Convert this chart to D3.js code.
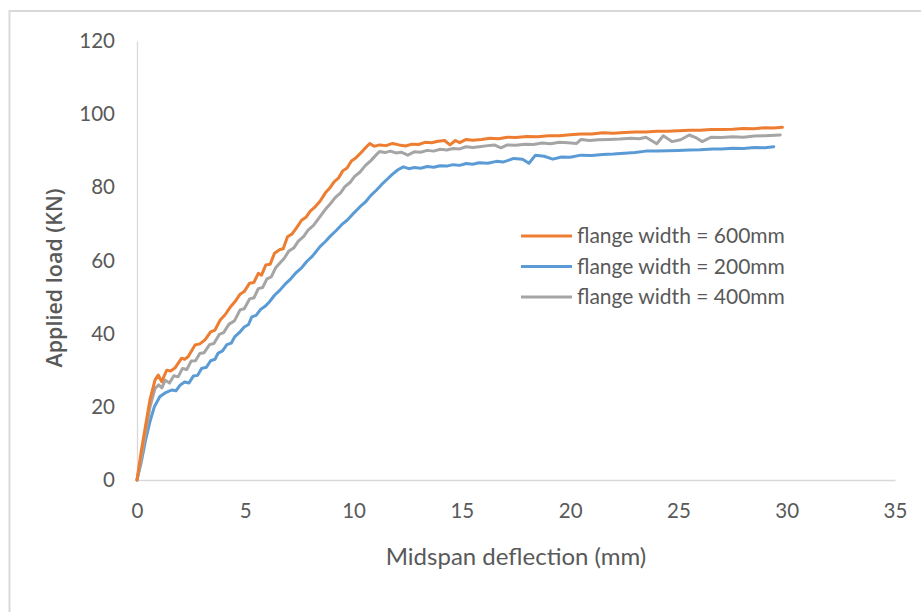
<!DOCTYPE html>
<html><head><meta charset="utf-8">
<script src="https://cdn.jsdelivr.net/npm/d3@7"></script>
<style>body{margin:0;background:#fff}svg{display:block}</style>
</head><body>
<svg id="c" width="921" height="612"></svg>
<script>
const xTicks = [0,5,10,15,20,25,30,35];
const yTicks = [0,20,40,60,80,100,120];
const seriesNames = ["flange width = 600mm","flange width = 200mm","flange width = 400mm"];
const seriesColors = ["#ED7D31","#5B9BD5","#A5A5A5"];

const fw600 = [[0,0],[0.2,8],[0.4,15],[0.6,22],[0.83,27.3],[0.98,28.7],[1.14,26.9],[1.37,30],[1.55,29.8],[1.75,30.6],[2.06,33.3],[2.2,33],[2.36,33.7],[2.68,36.9],[2.9,37.2],[3.14,38.3],[3.4,40.5],[3.6,41],[3.85,43.8],[4.06,45.1],[4.3,47.2],[4.52,48.7],[4.76,50.8],[4.95,51.5],[5.2,53.8],[5.4,54],[5.6,56.5],[5.75,56],[5.95,58.8],[6.15,59],[6.35,62],[6.6,63],[6.75,63.2],[6.95,66.5],[7.15,67.2],[7.35,68.8],[7.6,71],[7.8,71.8],[8.0,73.5],[8.2,74.5],[8.45,76.2],[8.7,78.5],[8.9,79.8],[9.1,81.5],[9.3,82.5],[9.5,84.5],[9.7,85.3],[9.9,87.2],[10.1,88],[10.3,89.2],[10.5,90.5],[10.75,92],[10.95,91.2],[11.2,91.6],[11.5,91.4],[11.8,92],[12.1,91.6],[12.4,91.3],[12.7,91.8],[13.0,91.7],[13.3,92.3],[13.6,92.2],[13.9,92.6],[14.2,92.8],[14.45,91.6],[14.7,92.8],[14.9,92.2],[15.2,93.1],[15.5,92.9],[15.9,93.1],[16.3,93.4],[16.7,93.3],[17.1,93.7],[17.5,93.6],[18,93.9],[18.5,93.8],[19,94.1],[19.5,94.1],[20,94.4],[20.5,94.6],[21,94.6],[21.5,94.9],[22,94.8],[22.5,95],[23,95.1],[23.5,95.1],[24,95.3],[24.5,95.3],[25,95.5],[25.5,95.6],[26,95.6],[26.5,95.8],[27,95.8],[27.5,95.9],[28,96.1],[28.5,96],[29,96.3],[29.4,96.2],[29.8,96.4]];

const fw200 = [[0,0],[0.2,5],[0.4,11],[0.6,16],[0.8,20],[1.06,22.8],[1.3,23.8],[1.6,24.6],[1.8,24.4],[2.0,26],[2.2,26.8],[2.4,26.5],[2.6,28.4],[2.8,28.6],[2.98,30.5],[3.2,30.8],[3.4,32.6],[3.6,33],[3.75,34.7],[3.95,35.3],[4.15,37],[4.35,37.4],[4.52,39.2],[4.76,40.5],[4.95,41.8],[5.15,42.5],[5.3,44.6],[5.5,45],[5.7,46.6],[5.9,47.4],[6.1,48.6],[6.35,50.5],[6.6,51.9],[6.85,53.6],[7.1,55],[7.35,56.7],[7.6,58],[7.85,59.8],[8.1,61.2],[8.45,63.8],[8.7,65.2],[8.95,66.8],[9.2,68.2],[9.45,69.8],[9.7,71],[9.95,72.6],[10.3,74.7],[10.55,76],[10.8,77.8],[11.05,79.2],[11.3,80.8],[11.55,82.2],[11.8,83.6],[12.05,84.8],[12.3,85.6],[12.55,85.1],[12.8,85.4],[13.1,85.2],[13.4,85.7],[13.7,85.5],[14.0,85.9],[14.3,85.8],[14.6,86.2],[14.9,86],[15.2,86.5],[15.5,86.3],[15.8,86.7],[16.2,86.6],[16.6,87.1],[16.9,86.9],[17.4,87.9],[17.8,87.7],[18.1,86.6],[18.4,88.8],[18.8,88.5],[19.2,87.7],[19.6,88.3],[20.0,88.2],[20.5,88.8],[21,88.7],[21.5,89],[22,89.1],[22.5,89.3],[23,89.5],[23.5,89.9],[24,89.9],[24.5,90],[25,90.1],[25.5,90.2],[26,90.3],[26.6,90.5],[27,90.5],[27.5,90.7],[28,90.6],[28.5,90.9],[29,90.8],[29.4,91.1]];

const fw400 = [[0,0],[0.2,6],[0.4,13],[0.6,20],[0.83,25],[1.0,26],[1.15,25.2],[1.3,27.3],[1.5,26.5],[1.7,28.5],[1.9,28.2],[2.1,30.5],[2.3,30.2],[2.5,32.5],[2.7,32.6],[2.9,34.6],[3.1,34.8],[3.35,37],[3.55,37.3],[3.8,39.8],[4.0,40.3],[4.25,42.6],[4.5,43.5],[4.76,46.5],[4.95,46.8],[5.2,49.5],[5.4,49.8],[5.6,52.3],[5.8,52.6],[6.0,55],[6.2,55.5],[6.4,58],[6.6,59.3],[6.8,60.6],[7.0,62.5],[7.25,63.5],[7.45,65.3],[7.7,66.6],[7.9,68.3],[8.15,69.6],[8.45,72],[8.7,74],[8.9,75.3],[9.15,77.2],[9.4,78.5],[9.6,80.2],[9.85,81.4],[10.05,83],[10.3,84.2],[10.55,86],[10.8,87.3],[11.0,88.6],[11.2,89.8],[11.45,89.5],[11.7,89.9],[11.95,89.4],[12.2,89.6],[12.5,88.8],[12.8,89.7],[13.1,89.6],[13.4,90.1],[13.7,89.9],[14.0,90.4],[14.3,90.2],[14.6,90.6],[14.9,90.5],[15.2,91.1],[15.5,90.9],[15.8,91.1],[16.2,91.4],[16.5,91.6],[16.8,90.8],[17.1,91.6],[17.5,91.5],[17.9,91.8],[18.3,91.7],[18.7,92.1],[19.1,91.9],[19.5,92.3],[19.9,92.2],[20.3,92],[20.5,93.1],[20.9,92.8],[21.3,93],[21.8,93.1],[22.3,93.2],[22.8,93.4],[23.2,93.3],[23.5,93.7],[24.0,91.9],[24.3,94.1],[24.7,92.5],[25.1,93],[25.5,94.3],[25.8,93.6],[26.1,92.5],[26.5,93.7],[27,93.6],[27.5,93.8],[28,93.7],[28.5,94],[29,94.1],[29.7,94.3]];

const seriesData = [fw600, fw200, fw400];

const svg = d3.select("#c");
const font = "Lato, 'Open Sans', sans-serif";
const textColor = "#595959";

// outer chart border
svg.append("rect").attr("x",9.5).attr("y",11).attr("width",930).attr("height",620)
  .attr("fill","#fff").attr("stroke","#d9d9d9").attr("stroke-width",2);

const x = d3.scaleLinear().domain([0,35]).range([137,895]);
const y = d3.scaleLinear().domain([0,120]).range([480,41]);

// axes
const xAxis = svg.append("g").attr("transform",`translate(0,${y(0)})`)
  .call(d3.axisBottom(x).tickValues(xTicks).tickSize(0).tickPadding(23).tickFormat(d3.format("d")));
const yAxis = svg.append("g").attr("transform",`translate(${x(0)},0)`)
  .call(d3.axisLeft(y).tickValues(yTicks).tickSize(0).tickPadding(22).tickFormat(d3.format("d")));
[xAxis,yAxis].forEach(g=>{
  g.select(".domain").attr("stroke","#d9d9d9").attr("stroke-width",1.3);
  g.selectAll("text").attr("fill",textColor).attr("font-family",font).attr("font-size",20.5);
});

const line = d3.line().x(d=>x(d[0])).y(d=>y(d[1]));
const order = [1,2,0];
order.forEach(i=>{
  svg.append("path").datum(seriesData[i]).attr("d",line)
    .attr("fill","none").attr("stroke",seriesColors[i]).attr("stroke-width",3)
    .attr("stroke-linejoin","round").attr("stroke-linecap","round");
});

// axis titles
svg.append("text").attr("x",516).attr("y",565).attr("text-anchor","middle")
  .attr("fill",textColor).attr("font-family",font).attr("font-size",24)
  .text("Midspan deflection (mm)");
svg.append("text").attr("transform","translate(62,278) rotate(-90)").attr("text-anchor","middle")
  .attr("fill",textColor).attr("font-family","'Open Sans', sans-serif").attr("font-weight",600).attr("font-size",21.5)
  .text("Applied load (KN)");

// legend
const lg = svg.append("g");
seriesNames.forEach((n,i)=>{
  const yy = 236 + i*30.5;
  lg.append("line").attr("x1",521).attr("x2",572).attr("y1",yy).attr("y2",yy)
    .attr("stroke",seriesColors[i]).attr("stroke-width",3);
  lg.append("text").attr("x",577).attr("y",yy).attr("dy","0.35em")
    .attr("fill",textColor).attr("font-family",font).attr("font-size",21).text(n);
});
</script>
</body></html>
